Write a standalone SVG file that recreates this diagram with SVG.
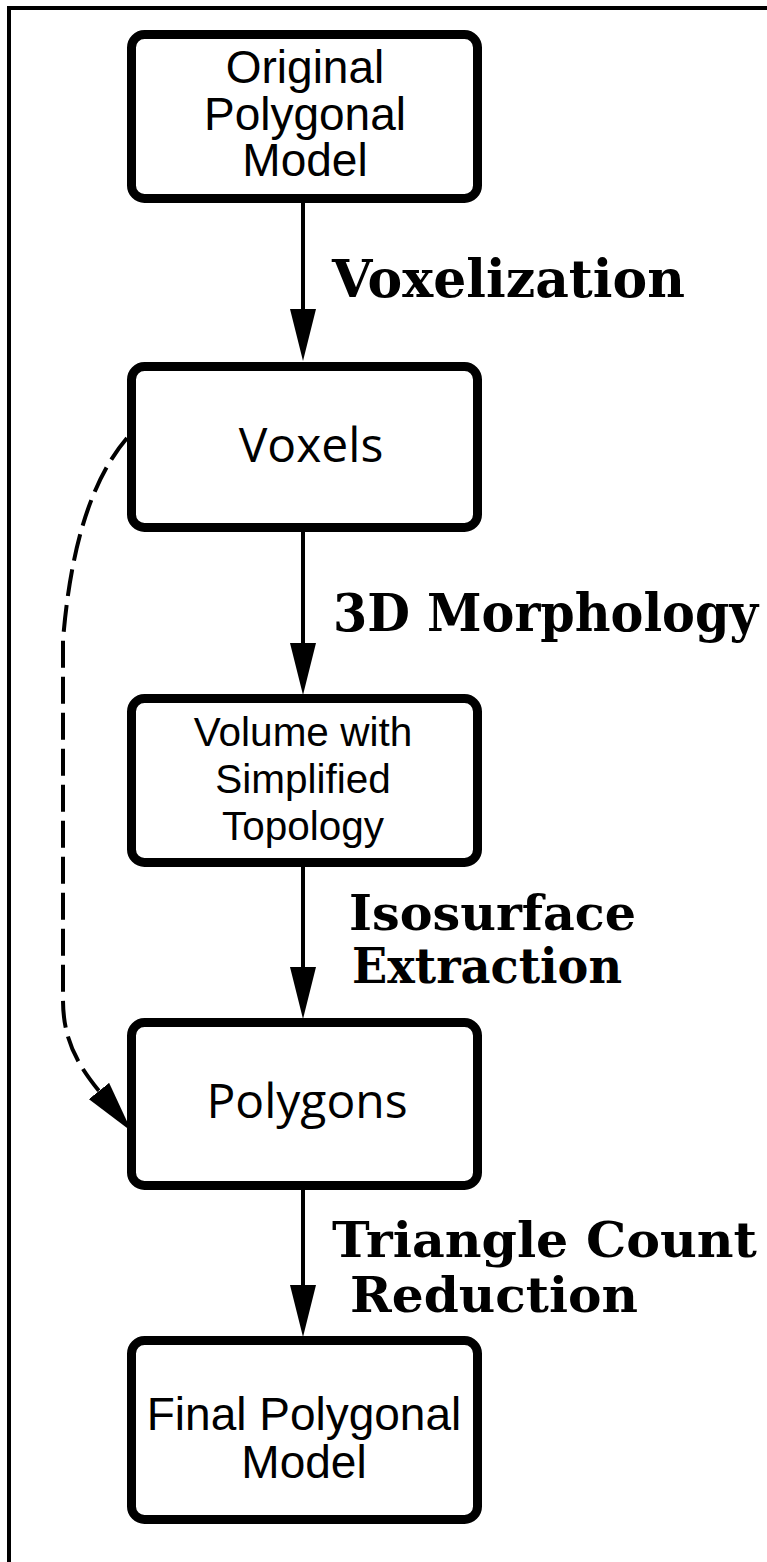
<svg xmlns="http://www.w3.org/2000/svg" width="767" height="1562" viewBox="0 0 767 1562">
<style>
.box{fill:#fff;stroke:#000;stroke-width:9}
.t1{font-family:"Liberation Sans",Arial,sans-serif;font-size:46px;fill:#000;text-anchor:middle}
.t2{font-family:"Open Sans",sans-serif;font-size:48px;fill:#000;text-anchor:middle}
.t3{font-family:"Liberation Sans",Arial,sans-serif;font-size:40.5px;fill:#000;text-anchor:middle}
.lbl{font-family:"DejaVu Serif",serif;font-weight:bold;fill:#000}
.conn{fill:none;stroke:#000;stroke-width:4}
.dash{stroke-dasharray:27 9}
</style>
<defs>
<marker id="ah" viewBox="0 0 52 26" refX="0" refY="13" markerWidth="52" markerHeight="26" markerUnits="userSpaceOnUse" orient="auto">
<path d="M0,0 L52,13 L0,26 Z" fill="#000"/>
</marker>
</defs>
<rect width="767" height="1562" fill="#fff"/>
<path d="M9,1562 L9,8 L767,8" fill="none" stroke="#000" stroke-width="4"/>
<g id="connectors">
<line class="conn" x1="303" y1="203" x2="303" y2="309" marker-end="url(#ah)"/>
<line class="conn" x1="303" y1="532" x2="303" y2="643" marker-end="url(#ah)"/>
<line class="conn" x1="303" y1="867" x2="303" y2="967" marker-end="url(#ah)"/>
<line class="conn" x1="303" y1="1190" x2="303" y2="1285" marker-end="url(#ah)"/>
<path class="conn dash" d="M127,438 C98,472 72,530 63,640 L63,1000 C63,1040 78,1065 99,1091" marker-end="url(#ah)"/>
</g>
<g id="labels">
<text class="lbl" x="332" y="297" font-size="53" textLength="353" lengthAdjust="spacingAndGlyphs">Voxelization</text>
<text class="lbl" x="333" y="631" font-size="52" textLength="425" lengthAdjust="spacingAndGlyphs">3D Morphology</text>
<text class="lbl" x="349" y="930" font-size="48" textLength="287" lengthAdjust="spacingAndGlyphs">Isosurface</text>
<text class="lbl" x="352" y="983" font-size="48" textLength="270" lengthAdjust="spacingAndGlyphs">Extraction</text>
<text class="lbl" x="332" y="1257" font-size="48" textLength="425" lengthAdjust="spacingAndGlyphs">Triangle Count</text>
<text class="lbl" x="350" y="1312" font-size="48" textLength="288" lengthAdjust="spacingAndGlyphs">Reduction</text>
</g>
<g id="node-original">
<rect class="box" x="131.5" y="34.5" width="346" height="164" rx="13"/>
<text class="t1" x="305" y="83">Original</text>
<text class="t1" x="305" y="130">Polygonal</text>
<text class="t1" x="305" y="176">Model</text>
</g>
<g id="node-voxels">
<rect class="box" x="131.5" y="366.5" width="346" height="161" rx="13"/>
<text class="t2" x="311" y="462">Voxels</text>
</g>
<g id="node-volume">
<rect class="box" x="131.5" y="698.5" width="346" height="164" rx="13"/>
<text class="t3" x="303" y="746">Volume with</text>
<text class="t3" x="303" y="793">Simplified</text>
<text class="t3" x="303" y="840">Topology</text>
</g>
<g id="node-polygons">
<rect class="box" x="131.5" y="1022.5" width="346" height="163" rx="13"/>
<text class="t2" x="307" y="1118">Polygons</text>
</g>
<g id="node-final">
<rect class="box" x="131.5" y="1340.5" width="346" height="179" rx="13"/>
<text class="t1" x="304" y="1430">Final Polygonal</text>
<text class="t1" x="304" y="1478">Model</text>
</g>
</svg>
